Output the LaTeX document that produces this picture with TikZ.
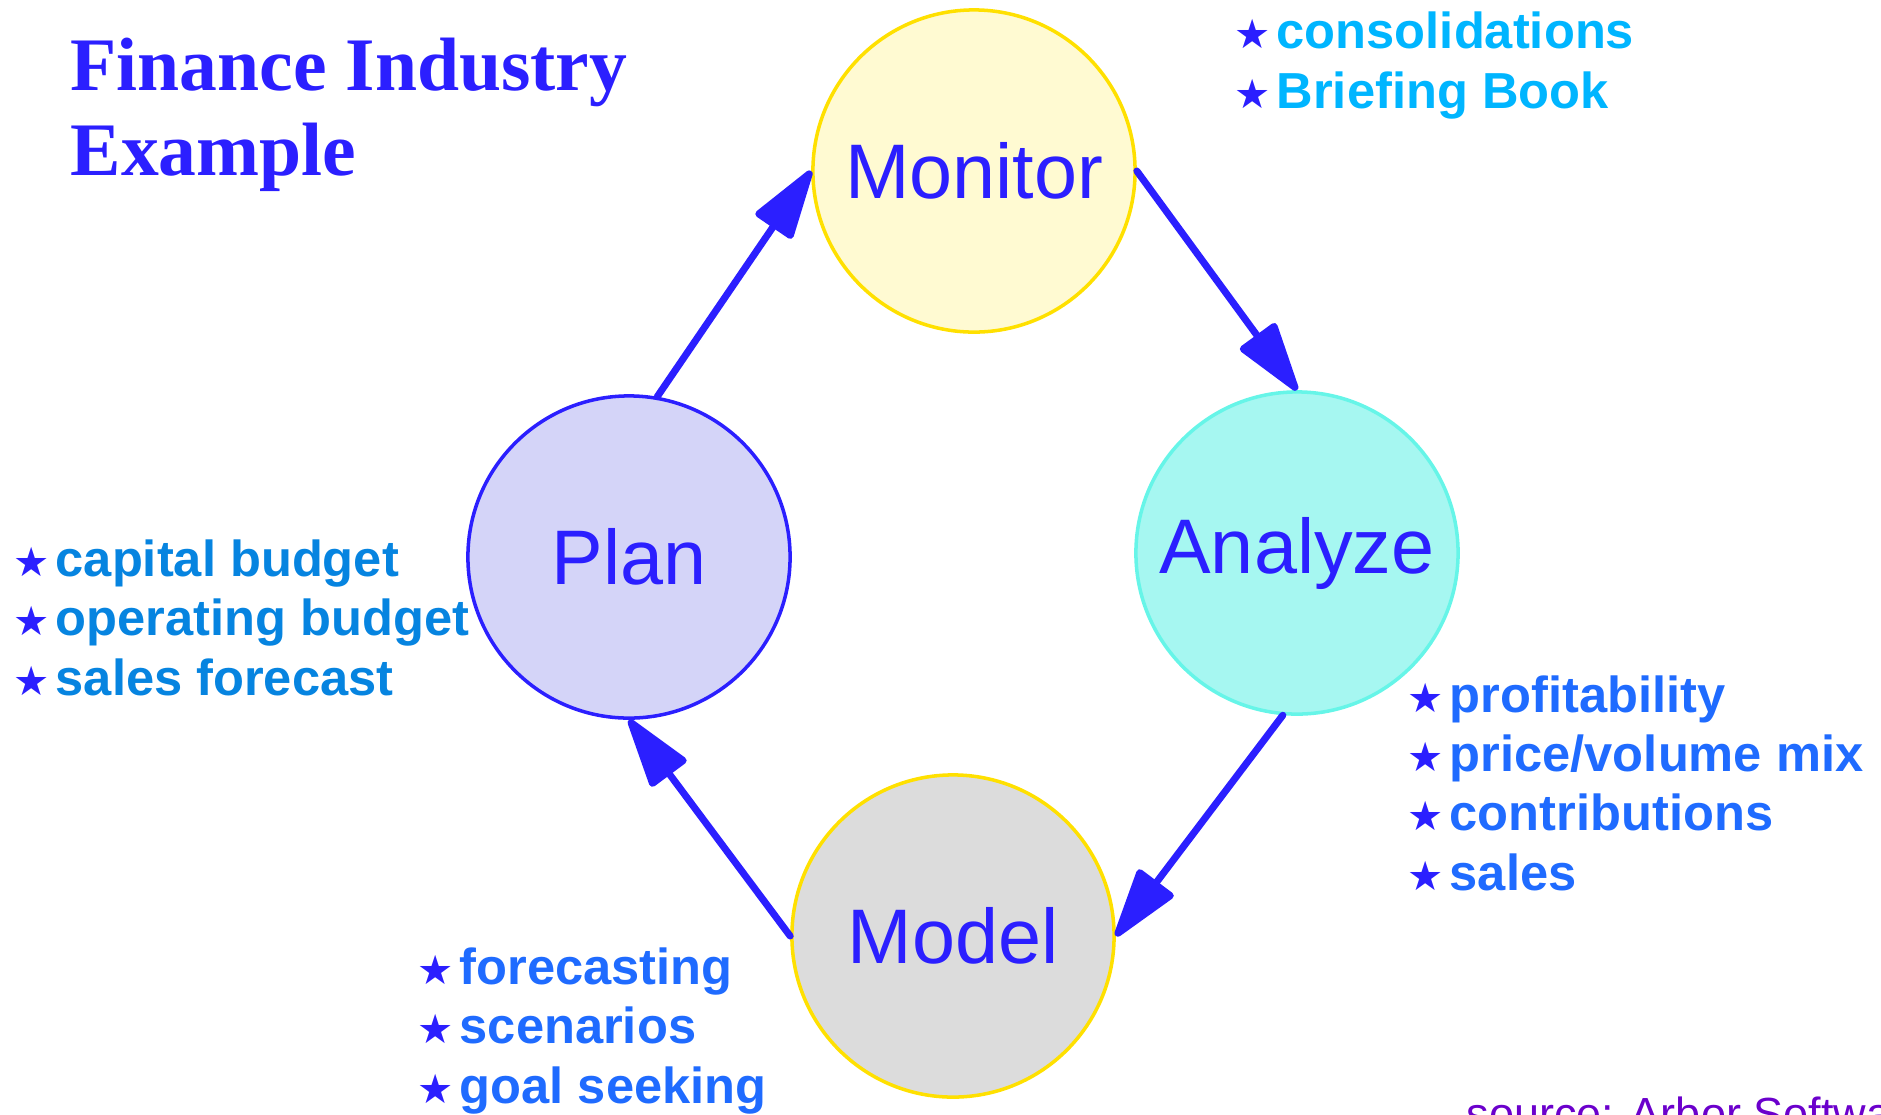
\documentclass[tikz,border=0pt]{standalone}
\usepackage{fontspec}
\setmainfont{Liberation Sans}
\newfontfamily\titlefont{Liberation Serif}
\newfontfamily\starfont{DejaVu Sans}
\usetikzlibrary{arrows.meta}
\definecolor{dIndigo}{HTML}{2B1FFF}
\definecolor{dSky}{HTML}{00B5FF}
\definecolor{dAzure}{HTML}{1F6BFF}
\definecolor{dOcean}{HTML}{0684E0}
\definecolor{dPurple}{HTML}{6B00CC}
\definecolor{dGold}{HTML}{FFE000}
\definecolor{dCream}{HTML}{FFFAD2}
\definecolor{dLilac}{HTML}{D4D4F8}
\definecolor{dAqua}{HTML}{A6F7F1}
\definecolor{dTeal}{HTML}{66F5E8}
\definecolor{dGrey}{HTML}{DCDCDC}
\tikzset{
    stage/.style 2 args={
            circle,
            draw={#2},
            fill={#1},
            line width=1pt,
            minimum size=3.22cm, % diameter of every stage
            inner sep=0pt,
            text=dIndigo,
            font=\fontsize{22}{26}\selectfont
        },
    stage/.default={white}{black},
    flow/.style={
            line width=2pt,
            line cap=round,
            draw=dIndigo,
            -{Triangle[length=22pt,width=13pt,round]}
        },
}
\tikzset{
    bullets/.style={
            anchor=base west, % base = last line
            align=left,
            inner sep=0pt,
            text={#1},
            font=\fontsize{14.4}{16.8}\selectfont\bfseries
        },
    bullets/.default={dAzure}
}
\newcommand{\bstar}{%
    \makebox[0.42cm][l]{\color{dIndigo}\starfont\mdseries\fontsize{11.5}{12}\selectfont ★}%
}

\begin{document}
\begin{tikzpicture}[
        x=0.01cm,
        y=-0.01cm,
    ]
    \useasboundingbox (0,0) rectangle (1881,1114);
    % title
    \node[anchor=base west, align=left, inner sep=0pt, text=dIndigo,
        font=\titlefont\bfseries\fontsize{21.5}{23.9}\selectfont]
    (title) at (70,175) {Finance Industry\\Example};
    % the four stages
    \node[stage={dCream}{dGold}] (monitor) at (974,171) {Monitor};
    \node[stage={dAqua}{dTeal}] (analyze) at (1297,553) {Analyze};
    \node[stage={dGrey}{dGold}] (model) at (953,936) {Model};
    \node[stage={dLilac}{dIndigo}] (plan) at (629,557) {Plan};
    % cycle
    \draw[flow] (plan.80) -- (monitor.west);
    \draw[flow] (monitor.east) -- (analyze.north);
    \draw[flow] (analyze.265) -- (model.east);
    \draw[flow] (model.west) -- (plan.south);
    % lists
    \node[bullets=dSky] (monlist) at (1234,108)
    {\bstar consolidations\\\bstar Briefing Book};
    \node[bullets=dAzure] (analist) at (1407,890)
    {\bstar profitability\\\bstar price/volume mix\\\bstar contributions\\\bstar sales};
    \node[bullets=dOcean] (planlist) at (13,695)
    {\bstar capital budget\\\bstar operating budget\\\bstar sales forecast};
    \node[bullets=dAzure] (modlist) at (417,1103)
    {\bstar forecasting\\\bstar scenarios\\\bstar goal seeking};
    % source, cut by the page edge
    \node[anchor=base west, inner sep=0pt, text=dPurple,
        font=\fontsize{12.8}{15}\selectfont]
    (source) at (1466,1129) {source: Arbor Software};
\end{tikzpicture}
\end{document}
